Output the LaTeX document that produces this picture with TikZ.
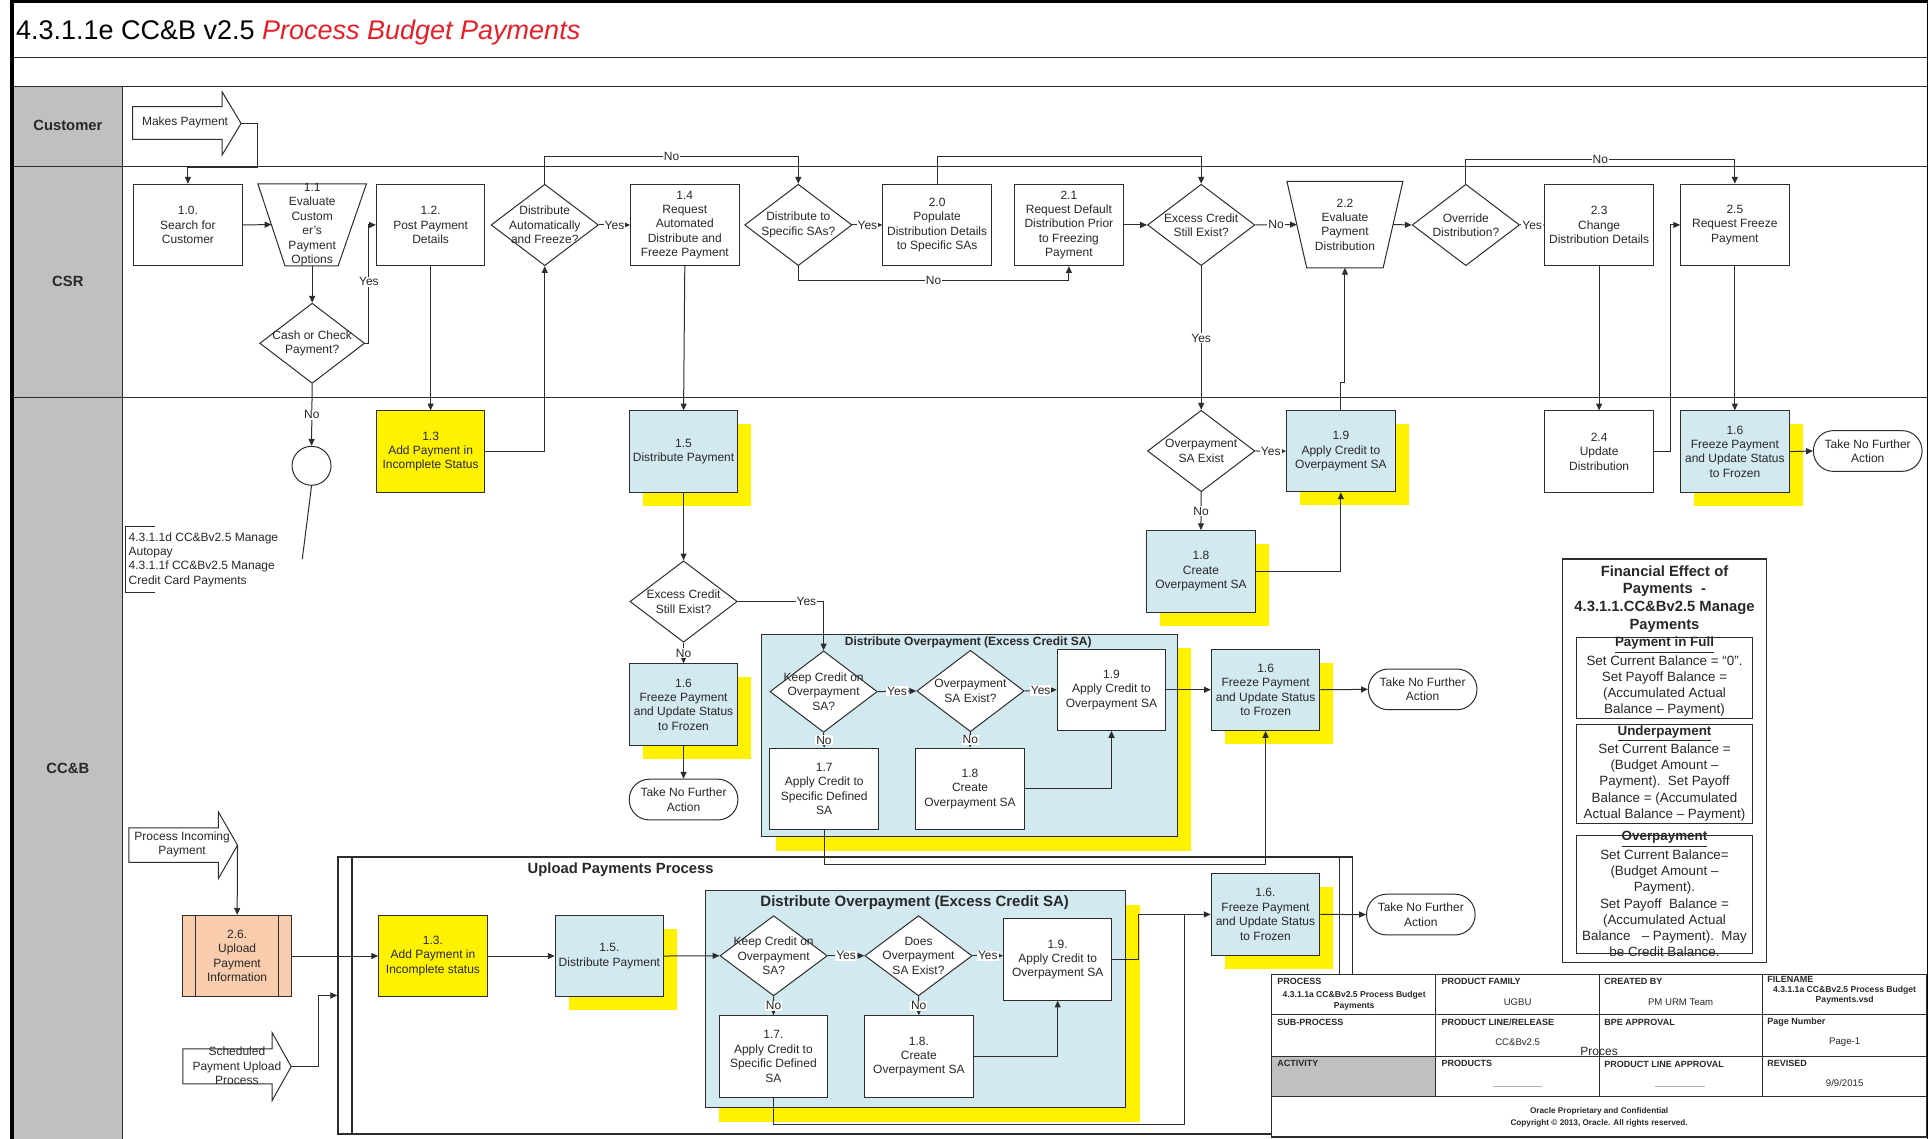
\documentclass[tikz,border=0pt]{standalone}
\usepackage{fontspec}
\setmainfont{Liberation Sans}
\usetikzlibrary{shapes.geometric,arrows.meta,shadows,calc}
\definecolor{lblue}{RGB}{210,233,239}
\definecolor{peach}{RGB}{248,204,173}
\definecolor{lgrey}{RGB}{192,192,192}
\definecolor{ttred}{RGB}{232,30,40}
\definecolor{ln}{RGB}{45,45,45}
\definecolor{txc}{RGB}{40,40,40}
\begin{document}
\begin{tikzpicture}[x=0.617pt, y=-0.617pt,
 tx/.style={font=\fontsize{6}{7.2}\selectfont, align=center, text=txc},
 sz/.style 2 args={minimum width=#1*0.617pt, minimum height=#2*0.617pt},
 pbox/.style={tx, draw=ln, line width=0.5pt, fill=white, inner sep=1pt, sz={88}{66}},
 bbox/.style={pbox, fill=lblue, general shadow={fill=yellow, shadow xshift=6.8pt, shadow yshift=-6.8pt}},
 ybox/.style={pbox, fill=yellow},
 dia/.style={tx, diamond, draw=ln, line width=0.5pt, fill=white, inner sep=-40pt, sz={87}{66}},
 term/.style={tx, draw=ln, line width=0.5pt, fill=white, rounded corners=10pt, sz={88}{33}, inner sep=1pt},
 lbl/.style={tx, fill=white, inner sep=0.5pt},
 ar/.style={draw=ln, line width=0.5pt, -{Triangle[length=3.4pt,width=3pt]}},
 ln2/.style={draw=ln, line width=0.5pt},
 grp/.style={draw=ln, line width=0.6pt, fill=lblue, general shadow={fill=yellow, shadow xshift=7.1pt, shadow yshift=-7pt}},
 lane/.style={font=\bfseries\fontsize{7.4}{9}\selectfont, text=txc},
 tbl/.style={font=\bfseries\fontsize{4.5}{5.3}\selectfont, anchor=west, inner sep=0pt, text=txc},
 tbv/.style={font=\fontsize{4.8}{5.6}\selectfont, inner sep=0pt, align=center, text=txc},
 fintx/.style={font=\fontsize{6.7}{8.1}\selectfont, align=center, inner sep=0pt, text=txc},
]
\useasboundingbox (0,0) rectangle (1565,923);
\fill[white] (0,0) rectangle (1565,923);
% ---------- frame and lanes
\fill[lgrey] (11,70) rectangle (99.5,923);
\draw[ln2] (99.5,70) -- (99.5,923);
\foreach \yy in {47,70,135,322} \draw[ln2] (11,\yy) -- (1562,\yy);
\draw[line width=1.6pt] (9.7,923) -- (9.7,1.3) -- (1562.5,1.3);
\draw[line width=0.6pt] (1562,1.3) -- (1562,923);
\node[anchor=base west, font=\fontsize{13.5}{16}\selectfont, inner sep=0pt] (title) at (12.7,31.9) {4.3.1.1e CC\&B v2.5 \textcolor{ttred}{\itshape Process Budget Payments}};
\node[lane] (lcust) at (55,102) {Customer};
\node[lane] (lcsr) at (55,228) {CSR};
\node[lane] (lccb) at (55,623) {CC\&B};

% ---------- Customer lane
\draw[ln2, fill=white] (107.5,86.5) -- (180,86.5) -- (180,74.4) -- (195.4,100) -- (180,125.6) -- (180,113) -- (107.5,113) -- cycle;
\node[tx] (mp) at (150,99.5) {Makes Payment};
\coordinate (mptip) at (195.4,100);

% ---------- CSR lane
\node[pbox] (n10) at (152.3,182.3) {1.0.\\Search for\\Customer};
\draw[ln2, fill=white] (209,149) -- (297,149) -- (274,215.5) -- (231,215.5) -- cycle;
\node[tx, inner sep=0pt] (n11) at (253,182) {1.1\\Evaluate\\Custom\\er's\\Payment\\Options};
\node[pbox] (n12) at (349,182.3) {1.2.\\Post Payment\\Details};
\node[dia] (d1) at (441.5,182.3) {Distribute\\Automatically\\and Freeze?};
\node[pbox] (n14) at (555,182.3) {1.4\\Request\\Automated\\Distribute and\\Freeze Payment};
\node[dia] (d2) at (647,182.3) {Distribute to\\Specific SAs?};
\node[pbox] (n20) at (759.5,182.3) {2.0\\Populate\\Distribution Details\\to Specific SAs};
\node[pbox] (n21) at (866.3,182.3) {2.1\\Request Default\\Distribution Prior\\to Freezing\\Payment};
\node[dia] (d3) at (973.5,182.3) {Excess Credit\\Still Exist?};
\draw[ln2, fill=white] (1043,147) -- (1137,147) -- (1121,217) -- (1059,217) -- cycle;
\node[tx, inner sep=0pt] (n22) at (1090,182) {2.2\\Evaluate\\Payment\\Distribution};
\node[dia] (d4) at (1188,182.3) {Override\\Distribution?};
\node[pbox] (n23) at (1296,182.3) {2.3\\Change\\Distribution Details};
\node[pbox] (n25) at (1406,182.3) {2.5\\Request Freeze\\Payment};
\node[dia, sz={85}{65}] (dcash) at (253,278.2) {Cash or Check\\Payment?};

% ---------- CC&B lane (upper)
\node[draw=ln, line width=0.5pt, circle, inner sep=0pt, minimum size=19.5pt] (cir) at (252.5,377.5) {};
\coordinate (annot) at (245,453);
\draw[ln2] (125.6,427) -- (102,427) -- (102,480) -- (125.6,480);
\node[tx, align=left, anchor=west, inner sep=0pt] (anno) at (104,453.5) {4.3.1.1d CC\&Bv2.5 Manage\\Autopay\\4.3.1.1f CC\&Bv2.5 Manage\\Credit Card Payments};
\node[ybox] (n13) at (349,366) {1.3\\Add Payment in\\Incomplete Status};
\node[bbox] (n15) at (554,366) {1.5\\Distribute Payment};
\node[dia] (dov1) at (973.5,365.5) {Overpayment\\SA Exist};
\node[bbox] (n19a) at (1086.7,365.6) {1.9\\Apply Credit to\\Overpayment SA};
\node[pbox] (n24) at (1296,366) {2.4\\Update\\Distribution};
\node[bbox] (n16a) at (1406,366) {1.6\\Freeze Payment\\and Update Status\\to Frozen};
\node[term] (t1) at (1513.7,365.5) {Take No Further\\Action};
\node[bbox] (n18a) at (973.3,463) {1.8\\Create\\Overpayment SA};
\node[dia] (d5) at (554,487.5) {Excess Credit\\Still Exist?};
\node[bbox] (n16b) at (554,571) {1.6\\Freeze Payment\\and Update Status\\to Frozen};
\node[term] (t2) at (554,648) {Take No Further\\Action};

\node[grp, sz={337}{164}] (g1) at (785.5,596) {};
\node[font=\bfseries\fontsize{6}{7}\selectfont, text=txc] (g1t) at (784.7,521) {Distribute Overpayment (Excess Credit SA)};
\node[dia] (dk1) at (667.5,560.5) {Keep Credit on\\Overpayment\\SA?};
\node[dia] (dov2) at (786.5,560) {Overpayment\\SA Exist?};
\node[pbox] (n19b) at (900.8,559) {1.9\\Apply Credit to\\Overpayment SA};
\node[pbox] (n17a) at (668,639.3) {1.7\\Apply Credit to\\Specific Defined\\SA};
\node[pbox] (n18b) at (786.2,639.3) {1.8\\Create\\Overpayment SA};
\node[bbox] (n16c) at (1025.7,559) {1.6\\Freeze Payment\\and Update Status\\to Frozen};
\node[term] (t3) at (1153,558.7) {Take No Further\\Action};

% ---------- financial effect
\draw[ln, line width=0.9pt, fill=white] (1266.4,453) rectangle (1431.7,780);
\node[font=\bfseries\fontsize{7.4}{8.9}\selectfont, align=center, text=txc] (fin) at (1349,485.5) {Financial Effect of\\Payments \ -\\4.3.1.1.CC\&Bv2.5 Manage\\Payments};
\draw[ln2] (1277.7,516.5) rectangle (1420.3,582);
\node[fintx] (f1) at (1349,548.5) {\textbf{\underline{Payment in Full}}\\Set Current Balance = “0”.\\Set Payoff Balance =\\(Accumulated Actual\\Balance – Payment)};
\draw[ln2] (1277.7,587.5) rectangle (1420.3,667.2);
\node[fintx] (f2) at (1349,626.7) {\textbf{\underline{Underpayment}}\\Set Current Balance =\\(Budget Amount –\\Payment).\ \ Set Payoff\\Balance = (Accumulated\\Actual Balance – Payment)};
\draw[ln2] (1277.7,677.5) rectangle (1420.3,773);
\node[fintx] (f3) at (1349,724.7) {\textbf{\underline{Overpayment}}\\Set Current Balance=\\(Budget Amount –\\Payment).\\Set Payoff\ \ Balance =\\(Accumulated Actual\\Balance\ \ \ – Payment).\ \ May\\be Credit Balance.};

% ---------- lower part
\draw[ln2, fill=white] (104.5,671) -- (177,671) -- (177,658) -- (192.5,685) -- (177,712) -- (177,699) -- (104.5,699) -- cycle;
\node[tx] (pin) at (147.6,684.5) {Process Incoming\\Payment};
\coordinate (piptip) at (192.5,685);
\draw[ln2, fill=white] (148.3,850) -- (220.5,850) -- (220.5,836.8) -- (236,864.4) -- (220.5,892) -- (220.5,878.5) -- (148.3,878.5) -- cycle;
\node[tx] (sch) at (192,864) {Scheduled\\Payment Upload\\Process};
\coordinate (schedtip) at (236,864.4);

\node[pbox, fill=peach] (n26) at (192.2,774.8) {2.6.\\Upload\\Payment\\Information};
\draw[ln2] ($(n26.north west)+(11,0)$) -- ($(n26.south west)+(11,0)$);
\draw[ln2] ($(n26.north east)+(-11,0)$) -- ($(n26.south east)+(-11,0)$);

\node[draw=ln, line width=0.8pt, sz={822}{224.4}] (upl) at (685,806.8) {};
\draw[ln, line width=0.8pt] ($(upl.north west)+(11.8,0)$) -- ($(upl.south west)+(11.8,0)$);
\draw[ln, line width=0.8pt] ($(upl.north east)+(-11,0)$) -- ($(upl.south east)+(-11,0)$);
\node[font=\bfseries\fontsize{7.4}{9}\selectfont, text=txc] (uplt) at (503,705) {Upload Payments Process};
\node[ybox] (n13b) at (350.9,774.8) {1.3.\\Add Payment in\\Incomplete status};
\node[bbox] (n15b) at (493.9,774.8) {1.5.\\Distribute Payment};
\node[grp, sz={340.4}{175.8}] (g2) at (741.8,809.7) {};
\node[font=\bfseries\fontsize{7.5}{9}\selectfont, text=txc] (g2t) at (741.3,731.5) {Distribute Overpayment (Excess Credit SA)};
\node[dia, sz={87}{65}] (dk2) at (627,774.6) {Keep Credit on\\Overpayment\\SA?};
\node[dia, sz={87}{65}] (dov3) at (744.4,774.6) {Does\\Overpayment\\SA Exist?};
\node[pbox] (n19c) at (857.2,777.6) {1.9.\\Apply Credit to\\Overpayment SA};
\node[pbox] (n17b) at (626.8,856.2) {1.7.\\Apply Credit to\\Specific Defined\\SA};
\node[pbox] (n18c) at (744.7,856.2) {1.8.\\Create\\Overpayment SA};
\node[bbox] (n16d) at (1025.6,741.1) {1.6.\\Freeze Payment\\and Update Status\\to Frozen};
\node[term] (t4) at (1151.5,741.2) {Take No Further\\Action};

% ---------- connectors
\draw[ar] (mptip) -- (209,100) -- (209,136) -- (152.3,136) -- (n10.north);
\draw[ar] (n10.east) -- ($(n11)+(-33,0)$);
\draw[ar] ($(n11)+(0,33.5)$) -- (dcash.north);
\draw[ar] (dcash.east) -- (299,278.2) |- node[lbl, pos=0.26]{Yes} (n12.west);
\draw[ar] (dcash.south) -- node[lbl]{No} (cir.north);
\draw[ln2] (cir.south) -- (annot);
\draw[ar] (n12.south) -- (n13.north);
\draw[ar] (n13.east) -| (d1.south);
\draw[ar] (d1.east) -- node[lbl]{Yes} (n14.west);
\draw[ar] (d1.north) -- (441.5,127) -| node[lbl, pos=0.25]{No} (d2.north);
\draw[ar] (n14.south) -- (n15.north);
\draw[ar] (d2.east) -- node[lbl]{Yes} (n20.west);
\draw[ar] (d2.south) -- (647,227) -| node[lbl, pos=0.25]{No} (n21.south);
\draw[ar] (n20.north) -- (759.5,127) -| (d3.north);
\draw[ar] (n21.east) -- (d3.west);
\draw[ar] (d3.east) -- node[lbl]{No} ($(n22)+(-39,0)$);
\draw[ar] (d3.south) -- node[lbl]{Yes} (dov1.north);
\draw[ar] ($(n22)+(39,0)$) -- (d4.west);
\draw[ar] (d4.east) -- node[lbl]{Yes} (n23.west);
\draw[ar] (d4.north) -- (1188,129) -| node[lbl, pos=0.25]{No} (n25.north);
\draw[ar] (n23.south) -- (n24.north);
\draw[ar] (n25.south) -- (n16a.north);
\draw[ar] (n24.east) -- (1354,366) |- (n25.west);
\draw[ar] (n16a.east) -- (t1.west);
\draw[ar] (dov1.east) -- node[lbl]{Yes} (n19a.west);
\draw[ar] (dov1.south) -- node[lbl]{No} (n18a.north);
\draw[ar] (n18a.east) -| (n19a.south);
\draw[ar] (n19a.north) -- (1086.7,310) -- (1090,310) -- ($(n22)+(0,35)$);
\draw[ar] (n15.south) -- (d5.north);
\draw[ar] (d5.east) -| node[lbl, pos=0.4]{Yes} (dk1.north);
\draw[ar] (d5.south) -- node[lbl]{No} (n16b.north);
\draw[ar] (n16b.south) -- (t2.north);
\draw[ar] (dk1.east) -- node[lbl]{Yes} (dov2.west);
\draw[ar] (dov2.east) -- node[lbl]{Yes} (n19b.west);
\draw[ar] (dk1.south) -- node[lbl]{No} (n17a.north);
\draw[ar] (dov2.south) -- node[lbl]{No} (n18b.north);
\draw[ar] (n18b.east) -| (n19b.south);
\draw[ar] (n19b.east) -- (n16c.west);
\draw[ar] (n16c.east) -- (t3.west);
\draw[ar] (n17a.south) -- (668,701) -| (n16c.south);
\draw[ar] (piptip) -- (n26.north);
\draw[ar] (n26.east) -- (n13b.west);
\draw[ar] (schedtip) -- (258,864.4) |- (upl.west);
\draw[ar] (n13b.east) -- (n15b.west);
\draw[ar] (n15b.east) -- (dk2.west);
\draw[ar] (dk2.east) -- node[lbl]{Yes} (dov3.west);
\draw[ar] (dov3.east) -- node[lbl]{Yes} (dov3.east -| n19c.west);
\draw[ar] (dk2.south) -- node[lbl]{No} (n17b.north);
\draw[ar] (dov3.south) -- node[lbl]{No} (n18c.north);
\draw[ar] (n18c.east) -| (n19c.south);
\draw[ar] (n19c.east) -- (923,777.6) |- (n16d.west);
\draw[ln2] (n17b.south) -- (626.8,911) -- (960,911) -- (960,741.1);
\draw[ar] (n16d.east) -- (t4.west);

% ---------- title block
\fill[white] (1030.7,790) rectangle (1561.5,921.4);
\fill[lgrey] (1030.7,856.3) rectangle (1163.7,888.7);
\draw[ln, line width=0.6pt] (1030.7,790) rectangle (1561.5,921.4);
\foreach \yy in {822.5,856.3,888.7} \draw[ln, line width=0.6pt] (1030.7,\yy) -- (1561.5,\yy);
\foreach \xx in {1163.7,1296,1428.6} \draw[ln, line width=0.6pt] (\xx,790) -- (\xx,888.7);
\node[tbl] (tb1) at (1035,795.5) {PROCESS};
\node[tbv, font=\bfseries\fontsize{4.3}{5.2}\selectfont] (tb1v) at (1097.5,811) {4.3.1.1a CC\&Bv2.5 Process Budget\\Payments};
\node[tbl] (tb2) at (1168,795.5) {PRODUCT FAMILY};
\node[tbv] (tb2v) at (1230,812) {UGBU};
\node[tbl] (tb3) at (1300,795.5) {CREATED BY};
\node[tbv] (tb3v) at (1362,812) {PM URM Team};
\node[tbl] (tb4) at (1432,794) {FILENAME};
\node[tbv, font=\bfseries\fontsize{4.3}{5.2}\selectfont] (tb4v) at (1495,806.5) {4.3.1.1a CC\&Bv2.5 Process Budget\\Payments.vsd};
\node[tbl] (tb5) at (1035,828.5) {SUB-PROCESS};
\node[tbl] (tb6) at (1168,828.5) {PRODUCT LINE/RELEASE};
\node[tbv] (tb6v) at (1230,844.6) {CC\&Bv2.5};
\node[tbl] (tb7) at (1300,828.5) {BPE APPROVAL};
\node[tbl] (tb8) at (1432,828.5) {Page Number};
\node[tbv] (tb8v) at (1495,844.6) {Page-1};
\node[tbl] (tb9) at (1035,861.6) {ACTIVITY};
\node[tbl] (tb10) at (1168,861.6) {PRODUCTS};
\node[tbl] (tb11) at (1300,862.5) {PRODUCT LINE APPROVAL};
\node[tbl] (tb12) at (1432,861.6) {REVISED};
\node[tbv] (tb12v) at (1495,877.8) {9/9/2015};
\draw[gray!60, line width=0.4pt] (1210,880.6) -- (1250,880.6);
\draw[gray!60, line width=0.4pt] (1341,880.6) -- (1382,880.6);
\node[tx, inner sep=0pt] (proces) at (1296,852.5) {Proces};
\node[tbv, font=\bfseries\fontsize{4.1}{5.8}\selectfont] (tbc) at (1296,905.5) {Oracle Proprietary and Confidential\\Copyright © 2013, Oracle. All rights reserved.};
\end{tikzpicture}
\end{document}
